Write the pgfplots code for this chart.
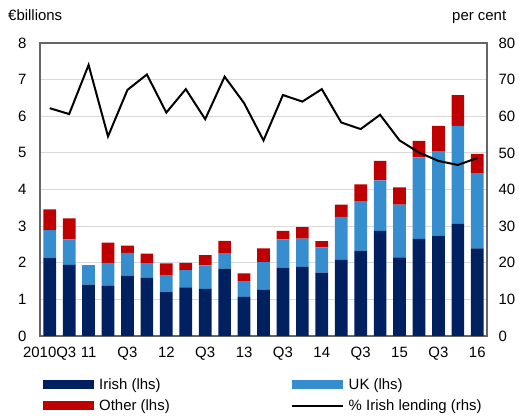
\documentclass[border=0pt]{standalone}
\usepackage{pgfplots}
\pgfplotsset{compat=1.18}
\usepackage{pgfplotstable}
\usepackage{fontspec}
\setmainfont{Liberation Sans}
\definecolor{irish}{HTML}{002060}
\definecolor{uk}{HTML}{368ECE}
\definecolor{other}{HTML}{C00000}
\definecolor{frame}{HTML}{666666}
\definecolor{gridc}{HTML}{D9D9D9}
\pgfplotsset{
  barleg/.style={legend image code/.code={\fill[##1] (0bp,-4.5bp) rectangle (51bp,4.5bp);}},
  lineleg/.style={legend image code/.code={\draw[##1] (0bp,0bp) -- (51bp,0bp);}},
}
\pgfplotstableread{
idx irish uk other pct
0 2.14 0.75 0.57 62.2
1 1.94 0.70 0.57 60.6
2 1.40 0.51 0.02 74.0
3 1.37 0.63 0.55 54.5
4 1.65 0.62 0.20 67.2
5 1.59 0.40 0.26 71.4
6 1.20 0.46 0.32 61.0
7 1.33 0.47 0.20 67.4
8 1.29 0.64 0.28 59.2
9 1.84 0.42 0.34 70.8
10 1.07 0.43 0.21 63.6
11 1.26 0.76 0.37 53.4
12 1.87 0.77 0.23 65.8
13 1.89 0.77 0.31 64.0
14 1.73 0.69 0.17 67.4
15 2.08 1.17 0.34 58.3
16 2.33 1.35 0.46 56.5
17 2.87 1.38 0.53 60.4
18 2.15 1.44 0.47 53.4
19 2.65 2.23 0.45 50.1
20 2.74 2.31 0.69 47.8
21 3.06 2.68 0.84 46.7
22 2.39 2.06 0.52 48.6
}\datatable
\begin{document}
\begin{tikzpicture}[font=\fontsize{15}{18}\selectfont]
\begin{axis}[
  at={(40bp,80bp)}, anchor=south west,
  width=447bp, height=293bp, scale only axis,
  xmin=-0.5, xmax=22.5, ymin=0, ymax=8,
  ybar stacked, bar width=12.7bp,
  ytick={0,1,...,8},
  xtick={0,2,...,22},
  xticklabels={2010Q3,11,Q3,12,Q3,13,Q3,14,Q3,15,Q3,16},
  major tick length=0pt,
  ymajorgrids, grid style={gridc, line width=1bp},
  axis line style={frame, line width=1.2bp},
  /pgf/number format/assume math mode=true,
  yticklabel style={xshift=-10bp},
  xticklabel style={yshift=-8bp},
  legend columns=2,
  legend cell align=left,
  legend style={at={(rel axis cs:0,0)}, anchor=north west, xshift=0bp, yshift=-38bp,
    draw=none, fill=none, row sep=5bp,
    /tikz/every odd column/.append style={column sep=3bp},
    /tikz/every even column/.append style={column sep=119bp}},
]
\addplot[fill=irish, draw=none, barleg] table[x=idx, y=irish] {\datatable};
\addlegendentry{Irish (lhs)}
\addplot[fill=uk, draw=none, barleg] table[x=idx, y=uk] {\datatable};
\addlegendentry{UK (lhs)}
\addplot[fill=other, draw=none, barleg] table[x=idx, y=other] {\datatable};
\addlegendentry{Other (lhs)}
\addlegendimage{black, line width=2bp, lineleg}
\addlegendentry{\% Irish lending (rhs)}
\end{axis}
\begin{axis}[
  at={(40bp,80bp)}, anchor=south west,
  width=447bp, height=293bp, scale only axis,
  xmin=-0.5, xmax=22.5, ymin=0, ymax=80,
  ytick={0,10,...,80},
  axis x line=none, axis y line*=right,
  axis line style={frame, line width=1.2bp},
  major tick length=0pt,
  /pgf/number format/assume math mode=true,
  yticklabel style={xshift=8bp},
]
\addplot[black, line width=2bp, mark=none] table[x=idx, y=pct] {\datatable};
\end{axis}
\node[anchor=base west, inner sep=0pt] at (8bp,395bp) {€billions};
\node[anchor=base west, inner sep=0pt] at (452bp,395bp) {per cent};
\pgfresetboundingbox
\useasboundingbox (0,0) rectangle (519bp,416bp);
\end{tikzpicture}
\end{document}
